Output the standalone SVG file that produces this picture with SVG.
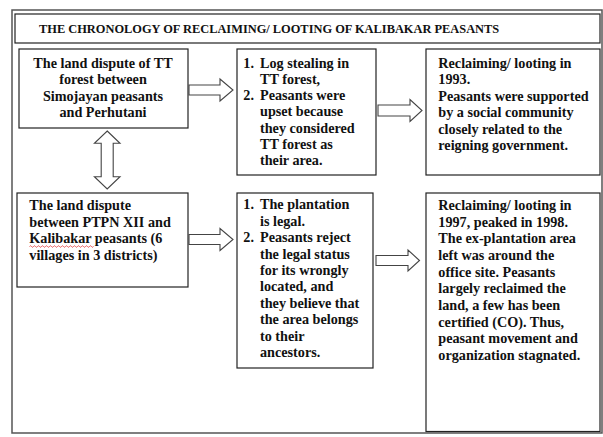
<svg xmlns="http://www.w3.org/2000/svg" width="603" height="437" viewBox="0 0 603 437">
<style>
.box{fill:#fff;stroke:#222;stroke-width:1.2}
.arr{fill:#fff;stroke:#444;stroke-width:1.1;stroke-linejoin:miter}
text{font-weight:bold;font-size:14.2px;fill:#111}
.title{font-size:12.4px}
.c{text-anchor:middle}
</style>
<rect width="603" height="437" fill="#fff"/>
<rect x="12" y="10" width="590" height="423" fill="none" stroke="#555" stroke-width="1.5"/>
<g font-family="Liberation Serif, serif">
<g id="title">
<rect class="box" x="15" y="14" width="585" height="29"/>
<text class="title" x="39" y="33">THE CHRONOLOGY OF RECLAIMING/ LOOTING OF KALIBAKAR PEASANTS</text>
</g>
<g id="n1">
<rect class="box" x="19" y="49" width="169" height="79"/>
<text class="c" x="103" y="67.7">The land dispute of TT</text>
<text class="c" x="103" y="84.2">forest between</text>
<text class="c" x="103" y="100.6">Simojayan peasants</text>
<text class="c" x="103" y="116.8">and Perhutani</text>
</g>
<g id="n2">
<rect class="box" x="237" y="49" width="139" height="126"/>
<text x="243.3" y="67.7">1.</text><text x="260" y="67.7">Log stealing in</text>
<text x="260" y="84">TT forest,</text>
<text x="243.3" y="100.2">2.</text><text x="260" y="100.2">Peasants were</text>
<text x="260" y="116.4">upset because</text>
<text x="260" y="132.6">they considered</text>
<text x="260" y="148.8">TT forest as</text>
<text x="260" y="165">their area.</text>
</g>
<g id="n3">
<rect class="box" x="426" y="49" width="174" height="126"/>
<text x="438.3" y="67.7">Reclaiming/ looting in</text>
<text x="438.3" y="84">1993.</text>
<text x="438.3" y="100.5">Peasants were supported</text>
<text x="438.3" y="117">by a social community</text>
<text x="438.3" y="133.5">closely related to the</text>
<text x="438.3" y="150">reigning government.</text>
</g>
<g id="n4">
<rect class="box" x="17" y="193" width="171" height="94"/>
<text x="29.3" y="210">The land dispute</text>
<text x="29.3" y="226.7">between PTPN XII and</text>
<text x="29.3" y="243.3">Kalibakar peasants (6</text>
<text x="29.3" y="260">villages in 3 districts)</text>
<path d="M29.5 246.5 q1 -1.5 2 0 t2 0 t2 0 t2 0 t2 0 t2 0 t2 0 t2 0 t2 0 t2 0 t2 0 t2 0 t2 0 t2 0 t2 0 t2 0 t2 0 t2 0 t2 0 t2 0 t2 0 t2 0 t2 0 t2 0 t2 0 t2 0 t2 0 t2 0 t2 0 t2 0 t2 0 t2 0" fill="none" stroke="#e03030" stroke-width="0.8"/>
</g>
<g id="n5">
<rect class="box" x="237" y="193" width="136" height="175"/>
<text x="243.3" y="209.3">1.</text><text x="260" y="209.3">The plantation</text>
<text x="260" y="225.7">is legal.</text>
<text x="243.3" y="242.1">2.</text><text x="260" y="242.1">Peasants reject</text>
<text x="260" y="258.5">the legal status</text>
<text x="260" y="274.9">for its wrongly</text>
<text x="260" y="291.3">located, and</text>
<text x="260" y="307.7">they believe that</text>
<text x="260" y="324.1">the area belongs</text>
<text x="260" y="340.5">to their</text>
<text x="260" y="357">ancestors.</text>
</g>
<g id="n6">
<rect class="box" x="426" y="193" width="174" height="238.5"/>
<text x="438.3" y="210">Reclaiming/ looting in</text>
<text x="438.3" y="226.7">1997, peaked in 1998.</text>
<text x="438.3" y="243.3">The ex-plantation area</text>
<text x="438.3" y="260">left was around the</text>
<text x="438.3" y="276.7">office site. Peasants</text>
<text x="438.3" y="293.3">largely reclaimed the</text>
<text x="438.3" y="310">land, a few has been</text>
<text x="438.3" y="326.7">certified (CO). Thus,</text>
<text x="438.3" y="343.3">peasant movement and</text>
<text x="438.3" y="360">organization stagnated.</text>
</g>
</g>
<g id="connectors">
<polygon class="arr" points="189,85 220,85 220,79 233,90 220,101 220,95 189,95"/>
<polygon class="arr" points="378,105 410,105 410,99.5 422,110.5 410,121.5 410,116 378,116"/>
<polygon class="arr" points="189,234.5 220,234.5 220,228.5 233,239.5 220,250.5 220,244.5 189,244.5"/>
<polygon class="arr" points="376,255.5 408,255.5 408,250 419.5,260.5 408,271 408,265.5 376,265.5"/>
<polygon class="arr" points="107.2,131 120,143.3 113.2,143.3 113.2,176.7 120,176.7 107.2,189 94.4,176.7 101.2,176.7 101.2,143.3 94.4,143.3"/>
</g>
</svg>
